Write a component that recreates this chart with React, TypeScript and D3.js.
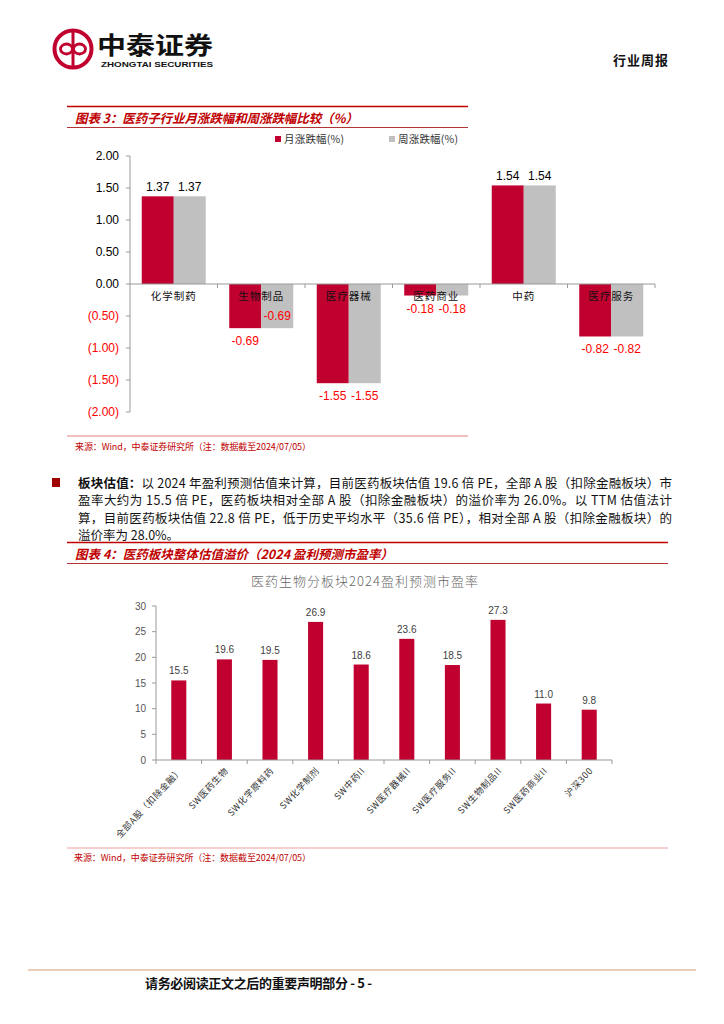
import * as d3 from 'd3'

// 图表3 data
const sectors = ['化学制药', '生物制品', '医疗器械', '医药商业', '中药', '医疗服务']
const monthly = [1.37, -0.69, -1.55, -0.18, 1.54, -0.82]
const weekly = [1.37, -0.69, -1.55, -0.18, 1.54, -0.82]
const seriesNames = ['月涨跌幅(%)', '周涨跌幅(%)']
const yTicks3 = [2, 1.5, 1, 0.5, 0, -0.5, -1, -1.5, -2]

// 图表4 data
const boards = ['全部A股（扣除金融）', 'SW医药生物', 'SW化学原料药', 'SW化学制剂', 'SW中药II', 'SW医疗器械II', 'SW医疗服务II', 'SW生物制品II', 'SW医药商业II', '沪深300']
const pe = [15.5, 19.6, 19.5, 26.9, 18.6, 23.6, 18.5, 27.3, 11.0, 9.8]
const yTicks4 = [0, 5, 10, 15, 20, 25, 30]

const paragraph = [
  '以 2024 年盈利预测估值来计算，目前医药板块估值 19.6 倍 PE，全部 A 股（扣除金融板块）市',
  '盈率大约为 15.5 倍 PE，医药板块相对全部 A 股（扣除金融板块）的溢价率为 26.0%。以 TTM 估值法计',
  '算，目前医药板块估值 22.8 倍 PE，低于历史平均水平（35.6 倍 PE），相对全部 A 股（扣除金融板块）的',
  '溢价率为 28.0%。',
]

const RED = '#C0002F'
const GREY = '#C0C0C0'
const CJK = '"Noto Sans CJK SC", sans-serif'
const ARIAL = '"Liberation Sans", Arial, sans-serif'

// plain hyphen instead of d3's unicode minus, like the original
const fmt2 = (v: number) => v.toFixed(2)

function Chart3() {
  const x = d3.scaleBand<string>().domain(sectors).range([130, 655])
  const x1 = d3.scaleBand<number>().domain([0, 1]).range([0, x.step()]).paddingOuter(0.367)
  const y = d3.scaleLinear().domain([-2, 2]).range([412, 156])
  const series = [monthly, weekly]
  const colors = [RED, GREY]
  // the weekly label of 生物制品 sits inside its bar in the original
  const insideLabel = (s: number, i: number) => s === 1 && sectors[i] === '生物制品'

  return (
    <g>
      {/* legend */}
      {seriesNames.map((n, k) => (
        <g key={n} transform={`translate(${k === 0 ? 275 : 389},136)`}>
          <rect width={6} height={6} fill={colors[k]} />
          <text x={9} y={7} fontSize={10.5} fontFamily={CJK} fill="#333" textLength={60} lengthAdjust="spacing">{n}</text>
        </g>
      ))}
      {/* bars */}
      {series.map((vals, s) =>
        vals.map((v, i) => {
          const bx = (x(sectors[i]) ?? 0) + (x1(s) ?? 0)
          return (
            <rect key={`${s}-${i}`} x={bx} width={x1.bandwidth()} y={Math.min(y(v), y(0))}
              height={Math.abs(y(v) - y(0))} fill={colors[s]} />
          )
        })
      )}
      {/* axes */}
      <line x1={130} x2={130} y1={y(2)} y2={y(-2)} stroke="#999" />
      {yTicks3.map(t => (
        <g key={t}>
          <line x1={126} x2={130} y1={y(t)} y2={y(t)} stroke="#999" />
          <text x={119} y={y(t) + 4} textAnchor="end" fontSize={12} fontFamily={ARIAL} fill={t < 0 ? '#FF0000' : '#000'}>
            {t < 0 ? `(${fmt2(-t)})` : fmt2(t)}
          </text>
        </g>
      ))}
      <line x1={130} x2={655} y1={y(0)} y2={y(0)} stroke="#999" />
      {sectors.map((c, i) => (
        <line key={c} x1={(x(c) ?? 0) + x.step()} x2={(x(c) ?? 0) + x.step()} y1={y(0)} y2={y(0) + 4} stroke="#999" />
      ))}
      {/* category labels */}
      {sectors.map(c => (
        <text key={c} x={(x(c) ?? 0) + x.step() / 2} y={300} textAnchor="middle" fontSize={10.5}
          fontFamily={CJK} fill="#111" letterSpacing={1}>{c}</text>
      ))}
      {/* value labels */}
      {series.map((vals, s) =>
        vals.map((v, i) => {
          const cx = (x(sectors[i]) ?? 0) + (x1(s) ?? 0) + x1.bandwidth() / 2
          const ly = v >= 0 ? y(v) - 5 : insideLabel(s, i) ? y(v) - 8 : y(v) + 17
          return (
            <text key={`l${s}-${i}`} x={cx} y={ly} textAnchor="middle" fontSize={12} fontFamily={ARIAL}
              fill={v < 0 ? '#FF0000' : '#000'}>{fmt2(v)}</text>
          )
        })
      )}
    </g>
  )
}

function Chart4() {
  const x = d3.scaleBand<string>().domain(boards).range([156, 612]).paddingInner(0.67).paddingOuter(0.335)
  const y = d3.scaleLinear().domain([0, 30]).range([760, 606])
  return (
    <g>
      <text x={365} y={586} textAnchor="middle" fontSize={13} fontFamily={CJK} fill="#666" fontWeight={300}
        letterSpacing={1}>医药生物分板块2024盈利预测市盈率</text>
      {boards.map((b, i) => (
        <rect key={b} x={x(b)} width={x.bandwidth()} y={y(pe[i])} height={y(0) - y(pe[i])} fill={RED} />
      ))}
      <line x1={156} x2={156} y1={y(30)} y2={y(0)} stroke="#999" />
      {yTicks4.map(t => (
        <g key={t}>
          <line x1={152} x2={156} y1={y(t)} y2={y(t)} stroke="#999" />
          <text x={146} y={y(t) + 3.5} textAnchor="end" fontSize={10} fontFamily={ARIAL} fill="#555">{t}</text>
        </g>
      ))}
      <line x1={156} x2={612} y1={y(0)} y2={y(0)} stroke="#999" />
      <line x1={156} x2={156} y1={y(0)} y2={y(0) + 4} stroke="#999" />
      {boards.map((b, i) => {
        const cx = (x(b) ?? 0) + x.bandwidth() / 2
        return (
          <g key={b}>
            <line x1={cx + x.step() / 2} x2={cx + x.step() / 2} y1={y(0)} y2={y(0) + 4} stroke="#999" />
            <text x={cx} y={y(pe[i]) - 6} textAnchor="middle" fontSize={10} fontFamily={ARIAL} fill="#404040">
              {pe[i].toFixed(1)}
            </text>
            <text transform={`translate(${cx + 2},${y(0) + 9}) rotate(-47)`} textAnchor="end" fontSize={9}
              fontFamily={CJK} fill="#333" dy="0.35em" letterSpacing={0.6}>{b}</text>
          </g>
        )
      })}
    </g>
  )
}

export default function App() {
  return (
    <svg width={724} height={1024} style={{ position: 'absolute', left: 0, top: 0, background: '#fff' }}>
      <rect width={724} height={1024} fill="#fff" />
      {/* header */}
      <g>
        <circle cx={73} cy={49} r={18.5} fill="none" stroke={RED} strokeWidth={4} />
        <line x1={73} x2={73} y1={32} y2={66} stroke={RED} strokeWidth={3} />
        <ellipse cx={66.5} cy={49} rx={6} ry={5} fill="none" stroke={RED} strokeWidth={2.8} />
        <ellipse cx={79.5} cy={49} rx={6} ry={5} fill="none" stroke={RED} strokeWidth={2.8} />
        <text x={97} y={54} fontSize={24} fontWeight={700} fontFamily={CJK} fill="#111" textLength={116}
          lengthAdjust="spacingAndGlyphs">中泰证券</text>
        <text x={101} y={67} fontSize={8} fontWeight={700} fontFamily={ARIAL} fill="#111" textLength={112}
          lengthAdjust="spacingAndGlyphs">ZHONGTAI SECURITIES</text>
        <text x={613} y={65} fontSize={13} fontWeight={700} fontFamily={CJK} fill="#111" textLength={55}>行业周报</text>
      </g>

      {/* 图表3 frame */}
      <line x1={67} x2={468} y1={106.5} y2={106.5} stroke="#C00000" strokeWidth={1.3} />
      <text x={75} y={122.5} fontSize={12.5} fontWeight={700} fontStyle="italic" fontFamily={CJK} fill="#C00000"
        textLength={283} lengthAdjust="spacing">图表 3：医药子行业月涨跌幅和周涨跌幅比较（%）</text>
      <line x1={67} x2={468} y1={127.5} y2={127.5} stroke="#A00000" strokeWidth={0.8} />
      <Chart3 />
      <line x1={67} x2={468} y1={436} y2={436} stroke="#E88080" strokeWidth={1} />
      <text x={75} y={449.5} fontSize={9} fontFamily={CJK} fill="#C00000" textLength={236} lengthAdjust="spacing">
        来源：Wind，中泰证券研究所（注：数据截至2024/07/05）</text>

      {/* paragraph */}
      <rect x={52} y={478} width={8} height={9} fill="#A00000" />
      {paragraph.map((line, i) => (
        <text key={i} x={78} y={487.5 + i * 17.5} fontSize={12.5} fontFamily={CJK} fill="#111"
          textLength={i < 3 ? 594 : undefined} lengthAdjust="spacing">
          {i === 0 && <tspan fontWeight={700}>板块估值：</tspan>}
          {line}
        </text>
      ))}

      {/* 图表4 frame */}
      <line x1={67} x2={668} y1={542.5} y2={542.5} stroke="#C00000" strokeWidth={1.3} />
      <text x={75} y={558.5} fontSize={12.5} fontWeight={700} fontStyle="italic" fontFamily={CJK} fill="#C00000"
        textLength={318} lengthAdjust="spacing">图表 4：医药板块整体估值溢价（2024 盈利预测市盈率）</text>
      <line x1={67} x2={668} y1={563.5} y2={563.5} stroke="#A00000" strokeWidth={0.8} />
      <Chart4 />
      <line x1={67} x2={668} y1={848} y2={848} stroke="#F0A0A0" strokeWidth={1} />
      <text x={74} y={861} fontSize={9} fontFamily={CJK} fill="#C00000" textLength={237} lengthAdjust="spacing">
        来源：Wind，中泰证券研究所（注：数据截至2024/07/05）</text>

      {/* footer */}
      <line x1={28} x2={696} y1={970} y2={970} stroke="#EBCDB8" strokeWidth={2} />
      <text x={145} y={988} fontSize={13} fontWeight={700} fontFamily={CJK} fill="#111" textLength={227}
        lengthAdjust="spacing">请务必阅读正文之后的重要声明部分 - 5 -</text>
    </svg>
  )
}
